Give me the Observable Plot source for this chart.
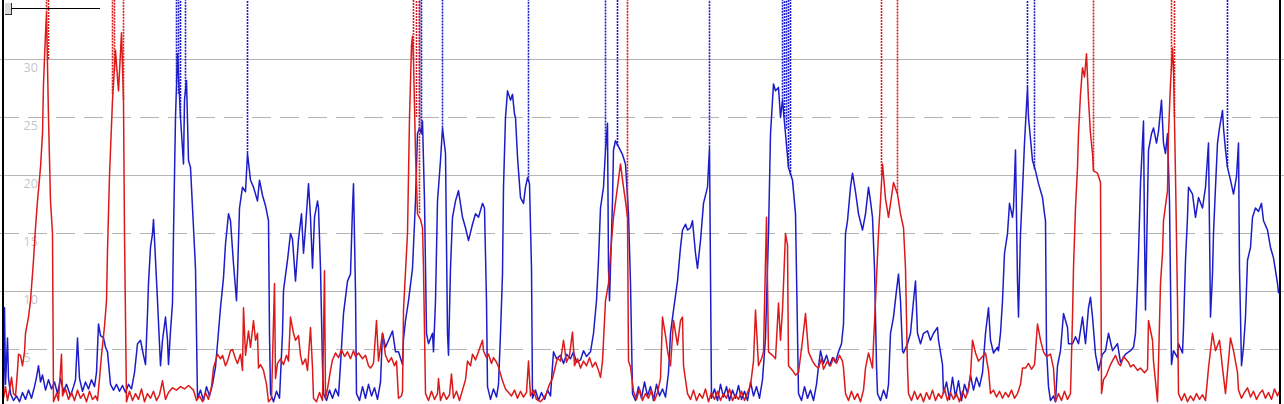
<!DOCTYPE html>
<html><head><meta charset="utf-8">
<script src="https://cdn.jsdelivr.net/npm/d3@7"></script>
<script src="https://cdn.jsdelivr.net/npm/@observablehq/plot@0.6"></script>
<style>
html,body{margin:0;padding:0;background:#fff;}
#wrap{position:relative;width:1284px;height:404px;overflow:hidden;background:#fff;}
#wrap svg{display:block;}
.bl{position:absolute;top:0;height:404px;left:2px;width:2px;background:#000;}
.br{position:absolute;top:0;height:404px;left:1279px;width:2px;background:#000;}
.knob{position:absolute;left:5px;top:3px;width:6px;height:11px;background:#dadada;border-right:1px solid #333;border-bottom:1px solid #333;}
.track{position:absolute;left:11px;top:8px;width:89px;height:1px;background:#000;}
</style></head>
<body>
<div id="wrap"><div class="bl"></div><div class="br"></div><div class="knob"></div><div class="track"></div></div>
<script>
const BLUE = "#1c1cc8";
const RED = "#dc1a1a";
const tickLabels = [5, 10, 15, 20, 25, 30];
const gridSolid = [10, 20, 30];
const gridDashed = [5, 15, 25];

const blue = [[3,1.0],[4,8.6],[5,2.0],[6,4.0],[7,6.0],[8,2.5],[10,1.2],[13,0.6],[16,1.0],[19,0.5],[22,1.3],[25,0.7],[28,1.5],[31,0.8],[34,1.8],[36,2.6],[38,3.6],[40,2.2],[42,2.8],[45,1.5],[48,2.4],[51,1.6],[54,2.2],[57,1.2],[60,2.5],[63,1.4],[66,2.0],[70,1.0],[73,1.8],[75,2.4],[77,6.0],[79,2.5],[82,1.4],[85,2.2],[88,1.6],[91,2.4],[94,1.8],[96,3.0],[98,7.2],[100,6.2],[103,6.0],[105,5.2],[107,4.8],[110,2.0],[113,1.5],[116,2.0],[119,1.4],[122,1.9],[125,1.3],[128,2.0],[131,1.6],[134,3.0],[137,5.5],[140,5.8],[143,4.5],[145,3.7],[147,8.1],[148,10.7],[150,13.8],[152,15.0],[153,16.2],[154,14.5],[157,9.2],[160,3.6],[162,5.8],[165,7.8],[167,5.8],[168,3.7],[170,6.6],[172,9.0],[173,15.0],[175,25.0],[177,30.5],[180,25.0],[183,21.0],[184,26.5],[186,28.2],[188,21.3],[190,20.7],[193,15.5],[195,12.0],[197,0.8],[200,1.5],[203,0.6],[206,1.8],[209,1.0],[212,2.0],[215,3.5],[217,5.5],[220,8.6],[223,11.2],[225,14.1],[228,16.7],[230,16.1],[233,12.4],[236,9.2],[237,11.5],[239,17.2],[242,19.0],[245,18.6],[247,21.9],[250,19.6],[253,19.0],[257,17.8],[259,19.6],[262,18.3],[265,17.4],[268,16.1],[269,6.4],[270,1.2],[273,0.5],[276,1.4],[279,0.8],[282,6.4],[283,10.1],[287,12.7],[290,15.0],[292,14.5],[295,10.9],[298,14.5],[301,16.7],[303,13.3],[305,15.5],[308,19.3],[310,16.4],[312,12.0],[314,16.4],[317,17.8],[318,17.2],[320,12.0],[322,3.6],[323,1.2],[326,0.6],[329,1.5],[332,0.8],[335,1.6],[338,1.0],[340,3.7],[343,8.1],[347,10.9],[350,11.5],[352,17.2],[353,19.3],[355,10.0],[356,1.2],[359,0.6],[362,1.8],[365,0.8],[368,2.0],[371,1.0],[374,1.7],[377,0.7],[380,2.2],[382,6.4],[385,5.2],[388,5.8],[392,6.6],[395,4.8],[398,4.8],[402,3.7],[403,5.9],[405,7.5],[408,9.2],[412,12.0],[415,17.8],[417,23.6],[419,24.1],[421,23.6],[422,24.7],[424,17.8],[426,6.4],[428,5.5],[432,6.4],[433,4.8],[435,9.2],[437,17.8],[440,21.3],[442,24.1],[445,21.9],[447,6.4],[448,4.5],[450,12.0],[452,16.4],[455,17.8],[458,18.7],[462,16.4],[465,15.5],[468,14.4],[472,15.8],[475,16.7],[478,16.4],[482,17.6],[484,17.2],[486,9.2],[487,1.8],[490,0.7],[493,1.6],[496,0.9],[498,2.0],[500,6.4],[502,11.5],[503,19.0],[505,25.0],[507,27.3],[510,26.5],[512,27.0],[514,25.3],[515,25.0],[517,21.6],[518,20.4],[520,18.1],[523,17.6],[525,19.0],[527,19.8],[529,19.3],[531,12.0],[532,0.8],[535,1.5],[538,0.6],[541,1.3],[544,0.7],[547,1.5],[550,1.0],[552,3.6],[553,4.8],[556,4.2],[560,4.5],[563,3.8],[566,4.6],[570,4.2],[573,4.8],[576,3.9],[580,4.1],[583,4.9],[586,4.4],[590,4.8],[593,6.4],[596,9.2],[598,12.7],[600,17.2],[603,19.0],[605,22.2],[607,24.5],[608,12.0],[609,9.2],[612,17.8],[613,22.2],[615,23.0],[618,22.5],[622,21.8],[625,21.0],[628,16.7],[630,10.7],[632,1.2],[635,0.6],[638,1.8],[641,0.8],[644,2.2],[647,1.0],[650,1.8],[653,0.6],[656,2.0],[659,1.0],[662,1.6],[665,0.9],[668,3.0],[670,6.4],[673,8.4],[677,10.9],[680,13.8],[682,15.3],[685,15.8],[687,15.3],[690,15.5],[692,16.1],[695,13.3],[697,12.0],[700,14.4],[703,17.6],[707,19.0],[709,22.4],[711,0.8],[714,1.6],[717,0.6],[720,2.0],[723,0.9],[726,1.8],[729,0.6],[732,1.5],[735,0.8],[738,1.9],[741,0.7],[744,1.4],[747,0.6],[750,2.2],[753,1.0],[756,1.8],[759,0.8],[762,2.4],[765,6.0],[768,15.0],[770,23.6],[773,27.9],[775,27.3],[778,27.6],[780,25.0],[782,26.5],[785,23.6],[788,20.7],[792,19.6],[795,16.7],[797,6.4],[798,1.2],[801,0.6],[804,1.8],[807,0.8],[810,1.5],[813,0.6],[816,2.0],[818,3.5],[820,4.9],[823,3.8],[826,4.5],[829,3.6],[832,4.3],[835,3.9],[838,4.8],[841,5.5],[843,7.2],[845,15.0],[847,16.1],[850,19.0],[852,20.2],[855,18.6],[858,16.7],[862,15.3],[865,16.7],[868,19.0],[870,17.8],[872,16.4],[874,12.0],[876,3.6],[877,1.2],[880,0.6],[883,1.5],[886,0.8],[888,2.0],[890,6.4],[893,7.8],[896,10.1],[898,11.5],[900,9.2],[902,4.9],[903,4.7],[907,5.5],[910,6.4],[913,9.2],[915,10.9],[917,6.4],[920,5.5],[923,6.4],[927,6.6],[930,5.8],[933,6.4],[937,6.9],[938,5.8],[942,3.7],[943,1.2],[946,2.2],[949,0.7],[952,2.6],[955,0.9],[958,2.3],[961,0.6],[964,2.0],[967,1.2],[970,2.8],[973,1.5],[976,2.6],[979,1.8],[982,3.0],[985,6.4],[988,8.6],[990,5.8],[993,4.7],[997,5.2],[998,4.9],[1000,6.4],[1002,9.2],[1004,13.3],[1007,15.0],[1009,17.6],[1012,16.4],[1013,17.2],[1015,22.2],[1017,10.9],[1018,7.8],[1020,15.0],[1022,18.7],[1024,22.8],[1027,27.6],[1028,25.0],[1032,21.3],[1035,20.4],[1038,19.3],[1042,18.1],[1044,16.7],[1045,16.1],[1046,5.0],[1048,1.8],[1050,0.6],[1053,1.0],[1055,0.5],[1057,3.6],[1060,4.9],[1063,8.1],[1067,6.9],[1068,5.5],[1072,5.5],[1075,6.1],[1078,5.5],[1082,7.8],[1085,5.5],[1088,8.6],[1090,9.5],[1092,7.8],[1095,4.6],[1098,3.2],[1102,4.6],[1105,4.9],[1108,6.4],[1112,4.9],[1117,5.5],[1120,3.9],[1125,4.6],[1130,4.9],[1133,5.2],[1135,6.4],[1137,10.7],[1138,13.3],[1140,19.3],[1143,24.7],[1144,14.9],[1145,8.4],[1147,17.8],[1148,22.2],[1151,23.6],[1153,24.1],[1156,22.8],[1158,23.8],[1161,26.5],[1163,22.8],[1165,21.9],[1167,23.6],[1169,17.8],[1171,3.7],[1173,4.9],[1177,4.3],[1178,5.5],[1182,4.7],[1183,6.9],[1185,12.7],[1187,16.4],[1188,19.0],[1192,18.4],[1195,16.4],[1198,18.1],[1202,17.2],[1205,19.0],[1208,22.8],[1210,7.8],[1212,11.5],[1213,15.0],[1215,19.0],[1217,22.8],[1219,24.1],[1222,25.6],[1223,24.1],[1225,22.2],[1227,20.7],[1230,19.6],[1233,18.4],[1236,19.9],[1238,22.8],[1239,12.0],[1241,3.6],[1243,5.2],[1245,7.8],[1247,12.7],[1250,13.8],[1252,16.4],[1255,17.2],[1258,16.9],[1261,17.6],[1263,16.1],[1267,15.3],[1270,13.8],[1273,12.9],[1277,10.7],[1278,9.9]];

const red = [[3,0.8],[5,1.8],[7,0.6],[9,1.5],[11,2.6],[13,1.2],[15,1.0],[17,3.2],[18,4.6],[20,4.5],[22,3.6],[24,4.8],[25,6.4],[28,7.8],[30,9.2],[33,12.7],[35,15.5],[37,17.8],[40,20.7],[42,23.6],[43,27.9],[45,32.2],[46,34.0],[48,25.0],[50,17.8],[52,15.0],[53,0.5],[56,1.2],[58,0.6],[61,4.6],[62,1.0],[65,1.6],[68,0.7],[71,1.3],[74,0.6],[77,1.5],[80,0.8],[83,1.2],[86,0.5],[89,1.4],[92,0.7],[95,1.0],[97,0.6],[99,2.5],[101,4.5],[104,7.0],[106,9.2],[107,13.5],[109,20.0],[112,26.5],[115,30.8],[117,28.4],[118,27.3],[121,32.3],[123,26.5],[124,15.0],[126,0.5],[129,1.4],[132,0.6],[135,1.2],[138,0.7],[141,1.6],[144,0.5],[147,1.2],[150,0.8],[153,1.4],[156,0.6],[159,1.1],[162,2.3],[165,0.7],[168,1.3],[172,1.7],[176,1.5],[180,1.8],[184,1.6],[188,1.9],[193,1.5],[196,0.6],[199,1.0],[202,0.5],[205,1.3],[208,0.7],[211,1.8],[213,3.4],[217,4.6],[220,4.2],[222,4.5],[225,3.6],[227,4.0],[230,4.9],[232,5.0],[235,4.2],[237,3.8],[240,4.6],[242,3.2],[243,8.6],[245,4.5],[248,6.6],[250,5.2],[253,7.5],[255,5.8],[257,6.4],[258,3.4],[260,3.7],[263,3.2],[266,2.0],[268,0.5],[271,0.8],[274,10.7],[275,2.5],[277,3.8],[280,4.2],[283,3.7],[286,4.5],[288,4.0],[290,7.8],[293,6.4],[295,5.8],[298,6.2],[300,4.5],[302,3.7],[305,4.2],[307,3.2],[310,6.9],[312,3.4],[313,0.8],[316,0.5],[319,1.3],[322,0.6],[324,11.8],[325,0.8],[327,1.6],[330,3.2],[332,4.1],[335,4.7],[338,4.3],[341,5.0],[344,4.4],[347,4.8],[350,4.2],[353,4.9],[355,4.4],[358,4.7],[362,4.2],[365,4.5],[368,3.6],[370,3.4],[373,3.8],[376,7.5],[378,4.0],[382,6.4],[385,4.5],[388,3.9],[391,4.3],[394,3.6],[396,4.0],[398,0.8],[401,1.0],[402,1.4],[403,8.4],[407,15.0],[409,25.0],[411,31.2],[412,32.0],[413,30.0],[415,22.0],[417,16.7],[420,16.2],[422,15.5],[423,12.0],[425,1.2],[428,0.6],[431,1.4],[434,0.7],[437,1.2],[438,2.5],[440,0.6],[443,1.3],[446,0.7],[449,1.1],[451,2.9],[453,0.8],[456,1.4],[459,0.6],[462,1.5],[465,2.4],[467,4.0],[470,3.6],[472,4.6],[475,4.1],[478,4.8],[482,5.8],[483,4.9],[486,4.3],[488,4.6],[491,3.8],[493,4.3],[496,3.9],[498,3.5],[502,2.3],[505,1.6],[508,1.3],[511,1.0],[514,1.5],[517,0.8],[520,1.4],[523,0.9],[526,1.3],[528,4.0],[530,1.0],[533,1.5],[536,0.7],[540,0.5],[543,0.8],[546,1.2],[549,2.0],[552,2.5],[555,3.6],[557,4.3],[560,4.0],[563,5.8],[566,3.9],[569,4.5],[572,6.5],[574,3.6],[577,4.2],[580,3.4],[583,4.0],[586,3.6],[589,4.3],[592,3.5],[595,3.9],[598,3.2],[600,2.6],[602,4.0],[605,9.2],[608,10.7],[610,13.3],[613,16.4],[617,19.0],[620,21.0],[623,19.0],[625,17.8],[627,16.4],[628,4.0],[630,3.5],[633,1.4],[636,0.7],[639,1.6],[642,0.6],[645,1.2],[648,0.8],[651,1.5],[654,0.6],[657,1.3],[660,2.5],[662,7.8],[665,6.2],[667,4.9],[670,3.6],[673,7.5],[677,5.4],[680,7.5],[682,7.8],[683,3.6],[687,1.2],[690,0.7],[693,1.5],[696,0.6],[699,1.2],[702,0.8],[705,1.6],[708,0.5],[711,1.3],[714,0.7],[717,1.4],[720,0.6],[723,1.2],[726,0.8],[729,1.6],[732,0.6],[735,1.1],[738,0.7],[741,1.4],[744,0.6],[747,1.3],[750,1.9],[753,4.0],[755,8.4],[758,3.6],[761,4.2],[763,4.8],[765,12.7],[766,16.4],[768,4.8],[772,4.5],[775,4.2],[778,9.0],[780,5.8],[782,8.4],[785,15.0],[787,14.0],[788,3.6],[792,3.2],[795,2.8],[798,3.0],[802,5.8],[805,8.1],[808,4.8],[812,4.0],[815,3.6],[818,3.4],[821,4.2],[823,3.3],[827,4.0],[830,3.6],[833,4.3],[836,3.8],[839,4.5],[842,4.0],[843,3.4],[845,1.2],[848,0.6],[851,1.4],[854,0.7],[857,1.2],[860,0.5],[863,1.5],[865,3.4],[868,4.7],[872,3.4],[873,5.5],[875,9.2],[878,15.0],[880,17.8],[882,21.0],[885,18.0],[888,16.4],[893,19.4],[897,18.4],[900,16.7],[903,15.5],[905,12.0],[907,3.4],[908,1.2],[911,0.6],[914,1.4],[917,0.7],[920,1.2],[923,0.5],[926,1.3],[929,0.7],[932,1.5],[935,0.6],[938,1.2],[941,0.8],[944,1.6],[947,0.6],[950,1.3],[953,0.7],[956,1.2],[959,0.5],[962,1.4],[965,0.8],[968,1.6],[970,2.8],[972,5.8],[975,4.7],[978,4.0],[982,4.4],[985,4.7],[988,3.2],[990,1.2],[993,1.5],[996,0.9],[999,1.4],[1002,0.8],[1005,1.3],[1008,0.9],[1011,1.5],[1014,0.8],[1017,1.2],[1020,2.0],[1022,3.4],[1025,3.4],[1028,3.8],[1031,3.3],[1034,3.7],[1037,7.2],[1040,5.8],[1043,4.8],[1046,4.4],[1050,4.6],[1053,3.4],[1055,0.5],[1058,1.2],[1061,0.6],[1064,1.4],[1067,0.7],[1070,1.2],[1072,7.8],[1073,12.0],[1075,17.2],[1077,20.7],[1078,23.6],[1080,27.0],[1082,29.3],[1084,28.5],[1086,30.5],[1088,26.5],[1090,23.6],[1092,21.9],[1093,20.4],[1097,20.2],[1100,19.4],[1101,1.2],[1103,2.4],[1106,2.8],[1110,3.7],[1113,4.2],[1115,4.5],[1118,3.8],[1120,3.6],[1123,4.4],[1125,4.2],[1128,3.9],[1130,3.5],[1133,3.7],[1137,3.2],[1140,3.4],[1144,3.0],[1147,3.3],[1148,7.5],[1152,5.8],[1153,4.0],[1157,0.5],[1160,10.7],[1162,13.3],[1163,16.1],[1167,18.7],[1168,23.6],[1170,27.9],[1172,31.0],[1173,29.3],[1175,20.0],[1177,9.2],[1178,1.2],[1181,0.6],[1184,1.2],[1187,0.5],[1190,1.0],[1193,0.6],[1196,1.2],[1199,0.7],[1202,1.1],[1205,0.6],[1208,3.4],[1212,6.4],[1215,4.9],[1219,5.8],[1222,3.4],[1225,1.2],[1230,6.0],[1233,4.9],[1237,3.0],[1238,1.5],[1241,0.8],[1244,1.3],[1247,1.7],[1250,0.9],[1253,1.4],[1256,0.7],[1259,1.2],[1262,1.5],[1265,0.8],[1268,1.3],[1271,0.7],[1274,1.6],[1277,1.0],[1279,1.4]];

// off-scale excursions: [t, value where the excursion leaves the trace]
const blueSpikes = [[176,28],[178,27],[180,25],[185,27],[247,21.9],[419,24],[421,23.6],[442,24.1],[528,19.5],[605,22.2],[617,22.5],[709,22.4],[782,26.5],[784,25],[786,24],[788,20.7],[790,20],[1027,27.6],[1034,20.5],[1227,20.7]];
const redSpikes = [[46,34],[48,30],[112,27],[114,29],[123,26.5],[413,30],[416,25],[419,16.7],[627,16.4],[881,20],[897,18.4],[1093,20.4],[1171,29],[1174,25]];

const SPIKE_TOP = 100;

const chart = Plot.plot({
  width: 1284,
  height: 404,
  marginLeft: 0, marginRight: 0, marginTop: 0, marginBottom: 0,
  x: {domain: [0, 1284], axis: null},
  y: {domain: [0.26, 35.09], axis: null},
  style: {background: "white", fontFamily: "'Open Sans', sans-serif"},
  marks: [
    Plot.ruleY(gridSolid, {y: d => d, stroke: "#b4b4b4", strokeWidth: 1}),
    Plot.ruleY(gridDashed, {y: d => d, stroke: "#b4b4b4", strokeWidth: 1, strokeDasharray: "19,9"}),
    Plot.text(tickLabels, {y: d => d, text: d => String(d), frameAnchor: "left", dx: 23, dy: 8, textAnchor: "start", fill: "#c6c6c6", fontSize: 12.5}),
    Plot.ruleX(blueSpikes, {x: d => d[0], y1: d => d[1], y2: SPIKE_TOP, stroke: BLUE, strokeWidth: 1.6, strokeDasharray: "2,1", clip: true}),
    Plot.line(blue, {x: d => d[0], y: d => d[1], stroke: BLUE, strokeWidth: 1.5, clip: true}),
    Plot.ruleX(redSpikes, {x: d => d[0], y1: d => d[1], y2: SPIKE_TOP, stroke: RED, strokeWidth: 1.6, strokeDasharray: "2,1", clip: true}),
    Plot.line(red, {x: d => d[0], y: d => d[1], stroke: RED, strokeWidth: 1.5, clip: true})
  ]
});
document.getElementById("wrap").prepend(chart);
</script>
</body></html>
